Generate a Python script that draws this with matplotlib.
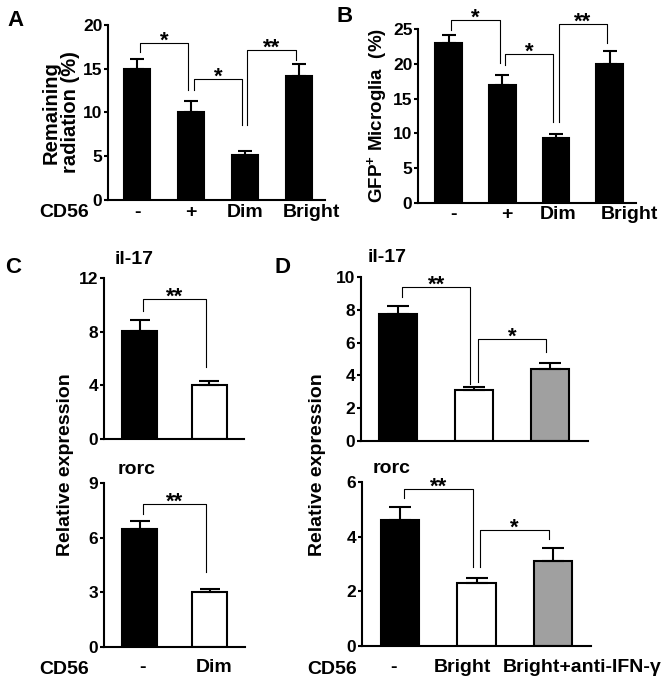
import numpy as np
import matplotlib
matplotlib.use('Agg')
import matplotlib.pyplot as plt
from matplotlib.transforms import ScaledTranslation

plt.rcParams['font.family'] = ['Liberation Sans', 'DejaVu Sans']
plt.rcParams['font.weight'] = 'bold'
plt.rcParams['mathtext.fontset'] = 'custom'
plt.rcParams['mathtext.rm'] = 'Liberation Sans:bold'
plt.rcParams['mathtext.bf'] = 'Liberation Sans:bold'
plt.rcParams['mathtext.default'] = 'bf'

# --- data ---
a_labels = ['-', '+', 'Dim', 'Bright']
a_vals = [15.0, 10.0, 5.1, 14.2]
a_err = [1.1, 1.3, 0.5, 1.3]
a_colors = ['black', 'black', 'black', 'black']
# (bar i, bar j, bracket height, left leg end, right leg end, text)
a_sig = [(0, 1, 17.9, 16.9, 12.6, '*'), (1, 2, 13.8, 12.6, 8.6, '*'),
         (2, 3, 17.1, 8.6, 16.0, '**')]

b_labels = ['-', '+', 'Dim', 'Bright']
b_vals = [23.0, 17.0, 9.4, 20.0]
b_err = [1.2, 1.4, 0.5, 1.9]
b_colors = ['black', 'black', 'black', 'black']
b_sig = [(0, 1, 26.3, 24.9, 20.1, '*'), (1, 2, 21.4, 19.8, 11.6, '*'),
         (2, 3, 25.7, 11.6, 23.0, '**')]

c_labels = ['-', 'Dim']
c_colors = ['black', 'white']
c_il17 = [8.05, 4.0]
c_il17_err = [0.8, 0.3]
c_il17_sig = [(0, 1, 10.4, 9.55, 5.35, '**')]
c_rorc = [6.5, 3.0]
c_rorc_err = [0.4, 0.2]
c_rorc_sig = [(0, 1, 7.85, 7.3, 4.1, '**')]

d_labels = ['-', 'Bright', 'Bright+anti-IFN-γ']
d_colors = ['black', 'white', '#a0a0a0']
d_il17 = [7.75, 3.1, 4.4]
d_il17_err = [0.5, 0.2, 0.35]
d_il17_sig = [(0, 1, 9.4, 8.8, 3.5, '**'), (1, 2, 6.2, 3.6, 5.4, '*')]
d_rorc = [4.6, 2.3, 3.1]
d_rorc_err = [0.5, 0.2, 0.5]
d_rorc_sig = [(0, 1, 5.75, 5.4, 2.9, '**'), (1, 2, 4.25, 2.9, 3.9, '*')]

W, H = 666, 687
fig = plt.figure(figsize=(W / 100, H / 100), dpi=100)


def make_ax(x0, x1, ytop, ybot):
    return fig.add_axes([x0 / W, 1 - ybot / H, (x1 - x0) / W, (ybot - ytop) / H])


def draw(ax, vals, errs, colors, sig, ylim, yticks, xlim, capsize, width=0.5):
    x = np.arange(len(vals))
    ax.bar(x, vals, width=width, color=colors, edgecolor='black', linewidth=1.5, zorder=2)
    ax.errorbar(x, vals, yerr=[np.zeros(len(vals)), errs], fmt='none', ecolor='black',
                elinewidth=1.5, capsize=capsize, capthick=1.5, zorder=3)
    for i, j, h, yi, yj, s in sig:
        xi, xj = i + 0.05, j - 0.05
        ax.plot([xi, xi, xj, xj], [yi, h, h, yj], color='black', lw=0.8, clip_on=False)
        ax.annotate(s, xy=((xi + xj) / 2, h), xytext=(0, -2.5), textcoords='offset points',
                    ha='center', va='baseline', fontsize=16, fontweight='bold',
                    annotation_clip=False)
    ax.set_xlim(*xlim)
    ax.set_ylim(*ylim)
    ax.set_yticks(yticks)
    ax.spines['top'].set_visible(False)
    ax.spines['right'].set_visible(False)
    ax.spines['left'].set_linewidth(1.5)
    ax.spines['bottom'].set_linewidth(1.5)
    ax.tick_params(axis='y', length=3, width=1.5, pad=1, labelsize=12.5)
    ax.tick_params(axis='x', length=0, labelsize=14)
    for lab in ax.get_yticklabels():
        lab.set_fontweight('bold')
    return x


def xlabels(ax, labels, shifts, pad):
    ax.set_xticks(np.arange(len(labels)))
    ax.set_xticklabels(labels, fontweight='bold')
    ax.tick_params(axis='x', pad=pad)
    for lab, dx in zip(ax.get_xticklabels(), shifts):
        lab.set_transform(lab.get_transform() + ScaledTranslation(dx / 100, 0, fig.dpi_scale_trans))


# Panel A
axA = make_ax(108, 325, 25, 200)
draw(axA, a_vals, a_err, a_colors, a_sig, (0, 20), [0, 5, 10, 15, 20], (-0.54, 3.49), 5, width=0.48)
xlabels(axA, a_labels, [0, 0, 0, 13], 3)
axA.set_ylabel('Remaining\nradiation (%)', fontsize=14.5, fontweight='bold', labelpad=2, linespacing=1.05)

# Panel B
axB = make_ax(418, 636, 29, 203)
draw(axB, b_vals, b_err, b_colors, b_sig, (0, 25), [0, 5, 10, 15, 20, 25], (-0.57, 3.49), 5)
xlabels(axB, b_labels, [5, 5, 2, 20], 2)
axB.set_ylabel('GFP$^{+}$ Microglia  (%)', fontsize=13.5, fontweight='bold', labelpad=3)

# Panel C
axC1 = make_ax(104, 244, 278, 439)
draw(axC1, c_il17, c_il17_err, c_colors, c_il17_sig, (0, 12), [0, 4, 8, 12], (-0.51, 1.5), 7)
axC1.set_xticks([])
axC2 = make_ax(104, 245, 483, 647)
draw(axC2, c_rorc, c_rorc_err, c_colors, c_rorc_sig, (0, 9), [0, 3, 6, 9], (-0.51, 1.5), 7)
xlabels(axC2, c_labels, [3, 4], 9)

# Panel D
axD1 = make_ax(361, 588, 277, 441)
draw(axD1, d_il17, d_il17_err, d_colors, d_il17_sig, (0, 10), [0, 2, 4, 6, 8, 10], (-0.49, 2.5), 8)
axD1.set_xticks([])
axD2 = make_ax(362, 591, 482, 646)
draw(axD2, d_rorc, d_rorc_err, d_colors, d_rorc_sig, (0, 6), [0, 2, 4, 6], (-0.5, 2.5), 8)
xlabels(axD2, d_labels, [-7, -14, 29], 9)

# gene titles
for ax, name, dx, dy in [(axC1, 'il-17', 8, 13), (axC2, 'rorc', 10, 10),
                         (axD1, 'il-17', 5, 14), (axD2, 'rorc', 8, 10)]:
    ax.annotate(name, xy=(0, 1), xycoords='axes fraction', xytext=(dx, dy),
                textcoords='offset points', ha='left', va='center', fontsize=14, fontweight='bold')

# shared labels
fig.text(65 / W, 1 - 465 / H, 'Relative expression', rotation=90, ha='center', va='center',
         fontsize=14, fontweight='bold')
fig.text(318 / W, 1 - 465 / H, 'Relative expression', rotation=90, ha='center', va='center',
         fontsize=14, fontweight='bold')
for xc, yc in [(64, 213), (64, 670), (332, 670)]:
    fig.text(xc / W, 1 - yc / H, 'CD56', ha='center', va='center', fontsize=14, fontweight='bold')

# panel letters
for s, xc, yc in [('A', 16, 21), ('B', 345, 17), ('C', 13, 268), ('D', 282, 268)]:
    fig.text(xc / W, 1 - yc / H, s, ha='center', va='center', fontsize=16, fontweight='bold')

fig.savefig('out.png', dpi=100)
